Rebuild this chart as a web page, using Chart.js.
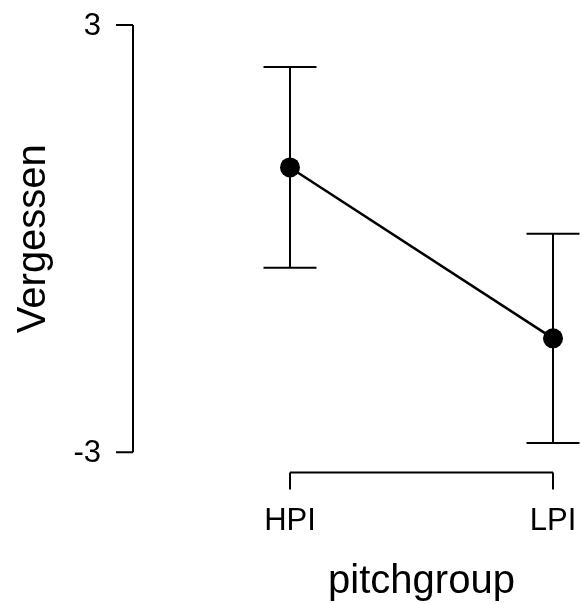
<!DOCTYPE html>
<html>
<head>
<meta charset="utf-8">
<script src="https://cdn.jsdelivr.net/npm/chart.js@4"></script>
<style>
  html, body { margin: 0; padding: 0; background: #fff; }
  #wrap { width: 581px; height: 604px; }
</style>
</head>
<body>
<div id="wrap"><canvas id="chart"></canvas></div>
<script>
// Data
const groups = ["HPI", "LPI"];
const means = [1.00, -1.40];
const lower = [-0.41, -2.87];
const upper = [2.41, 0.07];
const yTicks = [-3, 3];
const xTitle = "pitchgroup";
const yTitle = "Vergessen";

const FONT = "'Liberation Sans', Arial, sans-serif";

// error bars drawn behind the line and points
const errorBars = {
  id: "errorBars",
  beforeDatasetsDraw(chart) {
    const ctx = chart.ctx;
    const x = chart.scales.x;
    const y = chart.scales.y;
    ctx.save();
    ctx.strokeStyle = "#000";
    ctx.lineWidth = 2;
    groups.forEach((g, i) => {
      const px = x.getPixelForValue(i);
      const top = y.getPixelForValue(upper[i]);
      const bot = y.getPixelForValue(lower[i]);
      ctx.beginPath();
      ctx.moveTo(px, top);
      ctx.lineTo(px, bot);
      ctx.moveTo(px - 26.5, top);
      ctx.lineTo(px + 26.5, top);
      ctx.moveTo(px - 26.5, bot);
      ctx.lineTo(px + 26.5, bot);
      ctx.stroke();
    });
    ctx.restore();
  }
};

// R style detached axes
const rAxes = {
  id: "rAxes",
  afterDraw(chart) {
    const ctx = chart.ctx;
    const x = chart.scales.x;
    const y = chart.scales.y;
    const axisX = 133;
    ctx.save();
    ctx.strokeStyle = "#000";
    ctx.fillStyle = "#000";
    ctx.lineWidth = 2;

    // y axis
    const yTop = y.getPixelForValue(Math.max(...yTicks));
    const yBot = y.getPixelForValue(Math.min(...yTicks));
    ctx.beginPath();
    ctx.moveTo(axisX, yTop);
    ctx.lineTo(axisX, yBot);
    yTicks.forEach((t) => {
      const py = y.getPixelForValue(t);
      ctx.moveTo(axisX - 17, py);
      ctx.lineTo(axisX, py);
    });
    ctx.stroke();
    ctx.font = "31px " + FONT;
    ctx.textAlign = "right";
    ctx.textBaseline = "middle";
    yTicks.forEach((t) => {
      ctx.fillText(String(t), 101, y.getPixelForValue(t) + 1);
    });

    // x axis bracket
    const axisY = 472.5;
    const x0 = x.getPixelForValue(0);
    const x1 = x.getPixelForValue(groups.length - 1);
    ctx.beginPath();
    ctx.moveTo(x0, axisY);
    ctx.lineTo(x1, axisY);
    groups.forEach((g, i) => {
      const px = x.getPixelForValue(i);
      ctx.moveTo(px, axisY);
      ctx.lineTo(px, axisY + 17);
    });
    ctx.stroke();
    ctx.textAlign = "center";
    ctx.textBaseline = "alphabetic";
    groups.forEach((g, i) => {
      ctx.fillText(g, x.getPixelForValue(i), 530);
    });

    // titles
    ctx.font = "40px " + FONT;
    ctx.fillText(xTitle, (x0 + x1) / 2, 593);
    ctx.translate(45, (yTop + yBot) / 2);
    ctx.rotate(-Math.PI / 2);
    ctx.fillText(yTitle, 0, 0);
    ctx.restore();
  }
};

new Chart(document.getElementById("chart"), {
  type: "line",
  data: {
    labels: groups,
    datasets: [{
      data: means,
      borderColor: "#000",
      borderWidth: 2.5,
      pointRadius: 10,
      pointBackgroundColor: "#000",
      pointBorderColor: "#000",
      pointBorderWidth: 0,
      clip: false
    }]
  },
  options: {
    responsive: true,
    maintainAspectRatio: false,
    animation: false,
    events: [],
    layout: { padding: { left: 290, right: 28, top: 25, bottom: 151.7 } },
    scales: {
      x: { type: "category", display: false, offset: false },
      y: { type: "linear", display: false, min: -3, max: 3 }
    },
    plugins: {
      legend: { display: false },
      tooltip: { enabled: false }
    }
  },
  plugins: [errorBars, rAxes]
});
</script>
</body>
</html>
